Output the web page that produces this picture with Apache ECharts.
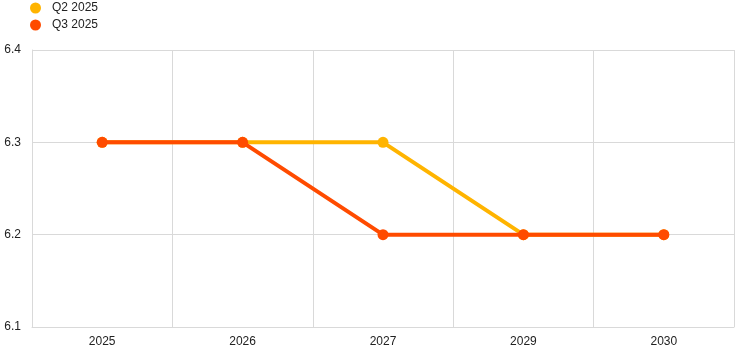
<!DOCTYPE html>
<html><head><meta charset="utf-8">
<script src="https://cdn.jsdelivr.net/npm/echarts@6/dist/echarts.min.js"></script>
<style>html,body{margin:0;padding:0;background:#fff}#c{width:745px;height:354px}</style>
</head><body><div id="c"></div>
<script>
const categories = ['2025','2026','2027','2029','2030'];
const q2_2025 = [6.3, 6.3, 6.3, 6.2, 6.2];
const q3_2025 = [6.3, 6.3, 6.2, 6.2, 6.2];
const seriesNames = ['Q2 2025','Q3 2025'];
const chart = echarts.init(document.getElementById('c'), null, {renderer:'canvas'});
const font = 'Liberation Sans, Arial, sans-serif';
chart.setOption({
  animation:false,
  textStyle:{fontFamily:font},
  legend:{
    orient:'vertical', left:25, top:-3, itemGap:5, itemWidth:11, itemHeight:11,
    icon:'circle', textStyle:{fontSize:12, color:'#222', fontFamily:font, padding:[0,0,0,6]},
    data:seriesNames
  },
  grid:{left:32, right:11, top:50, bottom:27, containLabel:false},
  xAxis:{
    type:'category', data:categories, boundaryGap:true,
    axisLine:{show:true, lineStyle:{color:'#d9d9d9'}},
    axisTick:{show:false},
    axisLabel:{color:'#222', fontSize:12, margin:9, fontFamily:font},
    splitLine:{show:true, lineStyle:{color:'#d9d9d9'}}
  },
  yAxis:{
    type:'value', min:6.1, max:6.4, interval:0.1,
    axisLine:{show:true, lineStyle:{color:'#d9d9d9'}},
    axisTick:{show:false},
    axisLabel:{color:'#222', fontSize:12, margin:11, fontFamily:font, formatter:v=>v.toFixed(1)},
    splitLine:{show:true, lineStyle:{color:'#d9d9d9'}}
  },
  series:[
    {name:seriesNames[0], type:'line', data:q2_2025, color:'#FFB400',
     symbol:'circle', symbolSize:11, lineStyle:{width:4}, z:2},
    {name:seriesNames[1], type:'line', data:q3_2025, color:'#FF4B00',
     symbol:'circle', symbolSize:11, lineStyle:{width:4}, z:3}
  ]
});
</script></body></html>
